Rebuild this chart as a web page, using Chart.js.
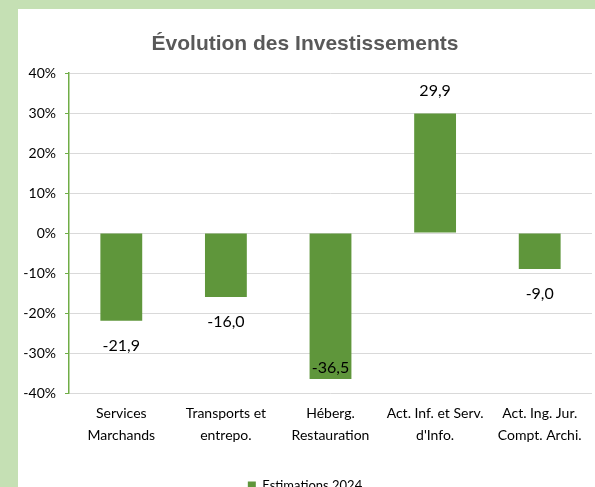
<!DOCTYPE html>
<html>
<head>
<meta charset="utf-8">
<script src="https://cdn.jsdelivr.net/npm/chart.js@4"></script>
<style>
  html, body { margin: 0; padding: 0; }
  body { width: 595px; height: 487px; background: #c5e0b4; overflow: hidden; position: relative; }
  #panel { position: absolute; left: 18px; top: 9px; width: 577px; height: 478px; background: #fff; overflow: hidden; }
  #wrap { position: absolute; left: 0; top: 0; width: 577px; height: 500px; }
</style>
</head>
<body>
<div id="panel"><div id="wrap"><canvas id="chart"></canvas></div></div>
<script>
/* ---------- données ---------- */
const categories = [
    ["Services", "Marchands"],
    ["Transports et", "entrepo."],
    ["Héberg.", "Restauration"],
    ["Act. Inf. et Serv.", "d'Info."],
    ["Act. Ing. Jur.", "Compt. Archi."]
];
const estimations2024 = [-21.9, -16.0, -36.5, 29.9, -9.0];
const yTicks = [-40, -30, -20, -10, 0, 10, 20, 30, 40];

const GREEN = "#5f963b";

/* ---------- étiquettes de données ---------- */
const valueLabels = {
    id: "valueLabels",
    afterDatasetsDraw(chart) {
        const ctx = chart.ctx;
        const area = chart.chartArea;
        ctx.save();
        ctx.font = "16px Lato, 'Open Sans', sans-serif";
        ctx.fillStyle = "#000";
        ctx.textAlign = "center";
        ctx.textBaseline = "middle";
        chart.getDatasetMeta(0).data.forEach((bar, i) => {
            const v = estimations2024[i];
            const txt = v.toFixed(1).replace(".", ",");
            let y = v >= 0 ? bar.y - 23 : bar.y + 25;
            // rester dans la zone du graphique
            y = Math.min(y, area.bottom - 25);
            ctx.fillText(txt, bar.x, y);
        });
        ctx.restore();
    }
};

new Chart(document.getElementById("chart"), {
    type: "bar",
    data: {
        labels: categories,
        datasets: [{
            label: "Estimations 2024",
            data: estimations2024,
            backgroundColor: GREEN,
            barPercentage: 0.4,
            categoryPercentage: 1
        }]
    },
    options: {
        responsive: true,
        maintainAspectRatio: false,
        animation: false,
        layout: { padding: { left: 0, right: 3, top: 0, bottom: 7 } },
        plugins: {
            title: {
                display: true,
                text: "Évolution des Investissements",
                color: "#595959",
                font: { family: "'Liberation Sans', Arial, sans-serif", size: 21, weight: "bold" },
                padding: { top: 23, bottom: 16 }
            },
            legend: {
                position: "bottom",
                labels: {
                    color: "#000",
                    font: { family: "Lato, 'Open Sans', sans-serif", size: 13 },
                    boxWidth: 8, boxHeight: 8, padding: 10
                }
            },
            tooltip: { enabled: false }
        },
        scales: {
            x: {
                grid: { display: false },
                border: { display: false },
                ticks: {
                    color: "#000",
                    font: { family: "Lato, 'Open Sans', sans-serif", size: 14, lineHeight: 1.55 },
                    maxRotation: 0, autoSkip: false, padding: 2
                },
                afterFit(scale) { scale.height = 76; }
            },
            y: {
                min: -40, max: 40,
                afterBuildTicks(scale) { scale.ticks = yTicks.map(v => ({ value: v })); },
                grid: { color: "#d9d9d9", tickColor: "#70ad47", tickLength: 4 },
                border: { color: "#70ad47", width: 1.5 },
                ticks: {
                    color: "#000",
                    font: { family: "Lato, 'Open Sans', sans-serif", size: 14 },
                    padding: 9,
                    callback: v => v + "%"
                },
                afterFit(scale) { scale.width = 51; }
            }
        }
    },
    plugins: [valueLabels]
});
</script>
</body>
</html>
